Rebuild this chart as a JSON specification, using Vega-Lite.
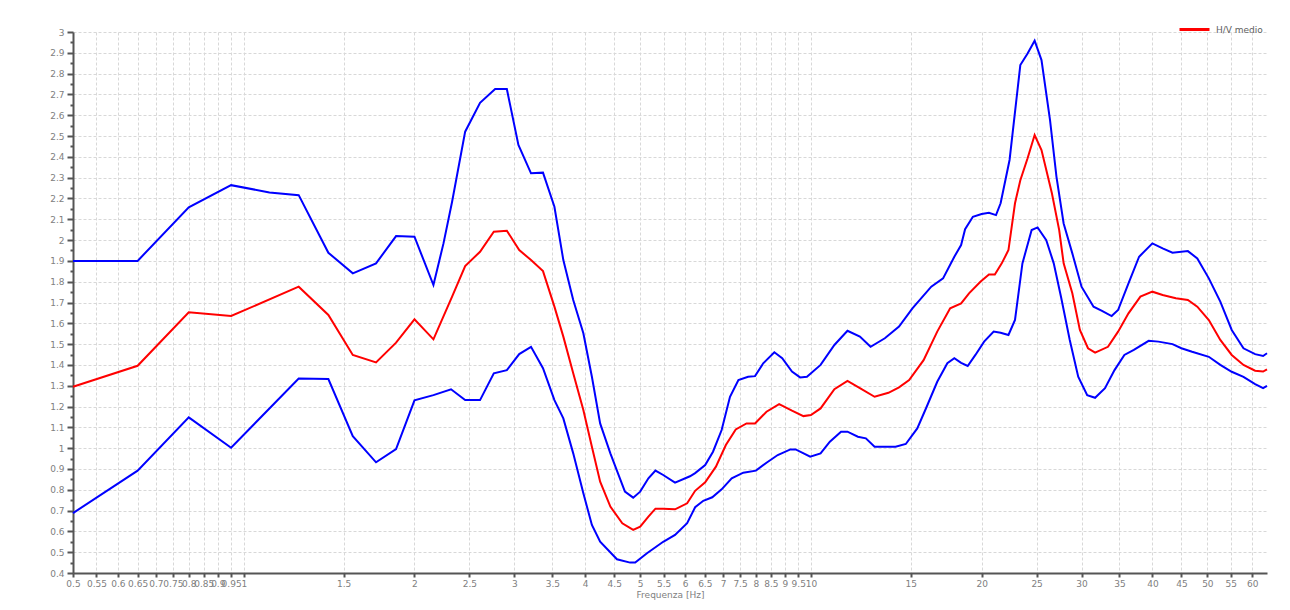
{
  "$schema": "https://vega.github.io/schema/vega-lite/v6.json",
  "autosize": "none",
  "padding": {"left": 73, "top": 32, "right": 23, "bottom": 37},
  "width": 1194,
  "height": 541,
  "background": "white",
  "config": {
    "view": {"stroke": null},
    "font": "DejaVu Sans"
  },
  "data": {
    "values": [
      {"f":0.5,"v":1.90,"s":"max"},{"f":0.65,"v":1.90,"s":"max"},{"f":0.8,"v":2.157,"s":"max"},{"f":0.95,"v":2.264,"s":"max"},{"f":1.11,"v":2.229,"s":"max"},{"f":1.25,"v":2.216,"s":"max"},{"f":1.41,"v":1.939,"s":"max"},{"f":1.557,"v":1.84,"s":"max"},{"f":1.711,"v":1.888,"s":"max"},{"f":1.856,"v":2.019,"s":"max"},{"f":2.0,"v":2.016,"s":"max"},{"f":2.16,"v":1.784,"s":"max"},{"f":2.25,"v":1.984,"s":"max"},{"f":2.33,"v":2.184,"s":"max"},{"f":2.457,"v":2.521,"s":"max"},{"f":2.61,"v":2.66,"s":"max"},{"f":2.775,"v":2.726,"s":"max"},{"f":2.91,"v":2.726,"s":"max"},{"f":3.05,"v":2.457,"s":"max"},{"f":3.21,"v":2.321,"s":"max"},{"f":3.37,"v":2.324,"s":"max"},{"f":3.53,"v":2.16,"s":"max"},{"f":3.66,"v":1.904,"s":"max"},{"f":3.81,"v":1.712,"s":"max"},{"f":3.97,"v":1.552,"s":"max"},{"f":4.11,"v":1.343,"s":"max"},{"f":4.25,"v":1.119,"s":"max"},{"f":4.43,"v":0.975,"s":"max"},{"f":4.7,"v":0.791,"s":"max"},{"f":4.86,"v":0.762,"s":"max"},{"f":5.0,"v":0.791,"s":"max"},{"f":5.17,"v":0.855,"s":"max"},{"f":5.32,"v":0.892,"s":"max"},{"f":5.49,"v":0.871,"s":"max"},{"f":5.76,"v":0.834,"s":"max"},{"f":6.12,"v":0.865,"s":"max"},{"f":6.25,"v":0.88,"s":"max"},{"f":6.51,"v":0.919,"s":"max"},{"f":6.72,"v":0.983,"s":"max"},{"f":6.96,"v":1.087,"s":"max"},{"f":7.2,"v":1.247,"s":"max"},{"f":7.45,"v":1.327,"s":"max"},{"f":7.75,"v":1.343,"s":"max"},{"f":7.97,"v":1.346,"s":"max"},{"f":8.24,"v":1.408,"s":"max"},{"f":8.62,"v":1.461,"s":"max"},{"f":8.9,"v":1.432,"s":"max"},{"f":9.26,"v":1.368,"s":"max"},{"f":9.57,"v":1.34,"s":"max"},{"f":9.84,"v":1.343,"s":"max"},{"f":10.4,"v":1.4,"s":"max"},{"f":11.0,"v":1.496,"s":"max"},{"f":11.6,"v":1.564,"s":"max"},{"f":12.2,"v":1.536,"s":"max"},{"f":12.74,"v":1.487,"s":"max"},{"f":13.5,"v":1.528,"s":"max"},{"f":14.3,"v":1.584,"s":"max"},{"f":15.1,"v":1.672,"s":"max"},{"f":16.3,"v":1.776,"s":"max"},{"f":17.1,"v":1.816,"s":"max"},{"f":17.9,"v":1.92,"s":"max"},{"f":18.4,"v":1.976,"s":"max"},{"f":18.7,"v":2.052,"s":"max"},{"f":19.3,"v":2.112,"s":"max"},{"f":20.0,"v":2.125,"s":"max"},{"f":20.6,"v":2.131,"s":"max"},{"f":21.2,"v":2.12,"s":"max"},{"f":21.6,"v":2.177,"s":"max"},{"f":22.4,"v":2.385,"s":"max"},{"f":23.4,"v":2.841,"s":"max"},{"f":24.1,"v":2.897,"s":"max"},{"f":24.8,"v":2.958,"s":"max"},{"f":25.5,"v":2.865,"s":"max"},{"f":26.4,"v":2.577,"s":"max"},{"f":27.1,"v":2.304,"s":"max"},{"f":27.9,"v":2.08,"s":"max"},{"f":28.9,"v":1.936,"s":"max"},{"f":30.0,"v":1.776,"s":"max"},{"f":31.5,"v":1.68,"s":"max"},{"f":32.6,"v":1.66,"s":"max"},{"f":33.9,"v":1.635,"s":"max"},{"f":34.8,"v":1.664,"s":"max"},{"f":36.3,"v":1.792,"s":"max"},{"f":37.9,"v":1.92,"s":"max"},{"f":40.0,"v":1.984,"s":"max"},{"f":41.7,"v":1.96,"s":"max"},{"f":43.4,"v":1.939,"s":"max"},{"f":46.2,"v":1.947,"s":"max"},{"f":48.0,"v":1.912,"s":"max"},{"f":50.3,"v":1.816,"s":"max"},{"f":52.7,"v":1.704,"s":"max"},{"f":55.2,"v":1.568,"s":"max"},{"f":57.9,"v":1.48,"s":"max"},{"f":60.7,"v":1.452,"s":"max"},{"f":62.7,"v":1.443,"s":"max"},{"f":63.7,"v":1.456,"s":"max"},

      {"f":0.5,"v":1.295,"s":"H/V medio"},{"f":0.65,"v":1.396,"s":"H/V medio"},{"f":0.8,"v":1.653,"s":"H/V medio"},{"f":0.95,"v":1.635,"s":"H/V medio"},{"f":1.25,"v":1.776,"s":"H/V medio"},{"f":1.41,"v":1.64,"s":"H/V medio"},{"f":1.557,"v":1.448,"s":"H/V medio"},{"f":1.711,"v":1.412,"s":"H/V medio"},{"f":1.856,"v":1.507,"s":"H/V medio"},{"f":2.0,"v":1.619,"s":"H/V medio"},{"f":2.16,"v":1.523,"s":"H/V medio"},{"f":2.33,"v":1.728,"s":"H/V medio"},{"f":2.457,"v":1.875,"s":"H/V medio"},{"f":2.61,"v":1.944,"s":"H/V medio"},{"f":2.76,"v":2.04,"s":"H/V medio"},{"f":2.91,"v":2.045,"s":"H/V medio"},{"f":3.06,"v":1.952,"s":"H/V medio"},{"f":3.21,"v":1.904,"s":"H/V medio"},{"f":3.37,"v":1.851,"s":"H/V medio"},{"f":3.53,"v":1.68,"s":"H/V medio"},{"f":3.66,"v":1.536,"s":"H/V medio"},{"f":3.81,"v":1.36,"s":"H/V medio"},{"f":3.97,"v":1.183,"s":"H/V medio"},{"f":4.11,"v":1.007,"s":"H/V medio"},{"f":4.25,"v":0.839,"s":"H/V medio"},{"f":4.43,"v":0.719,"s":"H/V medio"},{"f":4.65,"v":0.639,"s":"H/V medio"},{"f":4.86,"v":0.607,"s":"H/V medio"},{"f":5.0,"v":0.623,"s":"H/V medio"},{"f":5.17,"v":0.671,"s":"H/V medio"},{"f":5.32,"v":0.709,"s":"H/V medio"},{"f":5.49,"v":0.709,"s":"H/V medio"},{"f":5.76,"v":0.706,"s":"H/V medio"},{"f":6.05,"v":0.735,"s":"H/V medio"},{"f":6.25,"v":0.795,"s":"H/V medio"},{"f":6.51,"v":0.836,"s":"H/V medio"},{"f":6.8,"v":0.911,"s":"H/V medio"},{"f":7.08,"v":1.015,"s":"H/V medio"},{"f":7.37,"v":1.09,"s":"H/V medio"},{"f":7.7,"v":1.119,"s":"H/V medio"},{"f":7.97,"v":1.119,"s":"H/V medio"},{"f":8.35,"v":1.175,"s":"H/V medio"},{"f":8.79,"v":1.212,"s":"H/V medio"},{"f":9.26,"v":1.18,"s":"H/V medio"},{"f":9.7,"v":1.154,"s":"H/V medio"},{"f":10.0,"v":1.159,"s":"H/V medio"},{"f":10.4,"v":1.191,"s":"H/V medio"},{"f":11.0,"v":1.283,"s":"H/V medio"},{"f":11.6,"v":1.323,"s":"H/V medio"},{"f":12.2,"v":1.288,"s":"H/V medio"},{"f":12.95,"v":1.247,"s":"H/V medio"},{"f":13.7,"v":1.266,"s":"H/V medio"},{"f":14.3,"v":1.292,"s":"H/V medio"},{"f":14.9,"v":1.327,"s":"H/V medio"},{"f":15.8,"v":1.423,"s":"H/V medio"},{"f":16.7,"v":1.56,"s":"H/V medio"},{"f":17.6,"v":1.672,"s":"H/V medio"},{"f":18.4,"v":1.696,"s":"H/V medio"},{"f":18.7,"v":1.72,"s":"H/V medio"},{"f":19.0,"v":1.744,"s":"H/V medio"},{"f":19.9,"v":1.8,"s":"H/V medio"},{"f":20.6,"v":1.835,"s":"H/V medio"},{"f":21.1,"v":1.835,"s":"H/V medio"},{"f":21.7,"v":1.888,"s":"H/V medio"},{"f":22.3,"v":1.952,"s":"H/V medio"},{"f":22.9,"v":2.177,"s":"H/V medio"},{"f":23.4,"v":2.288,"s":"H/V medio"},{"f":24.1,"v":2.393,"s":"H/V medio"},{"f":24.8,"v":2.505,"s":"H/V medio"},{"f":25.5,"v":2.433,"s":"H/V medio"},{"f":26.6,"v":2.225,"s":"H/V medio"},{"f":27.4,"v":2.048,"s":"H/V medio"},{"f":27.9,"v":1.888,"s":"H/V medio"},{"f":28.9,"v":1.744,"s":"H/V medio"},{"f":29.8,"v":1.568,"s":"H/V medio"},{"f":30.8,"v":1.48,"s":"H/V medio"},{"f":31.7,"v":1.459,"s":"H/V medio"},{"f":33.4,"v":1.487,"s":"H/V medio"},{"f":34.8,"v":1.56,"s":"H/V medio"},{"f":36.3,"v":1.648,"s":"H/V medio"},{"f":38.1,"v":1.728,"s":"H/V medio"},{"f":40.0,"v":1.752,"s":"H/V medio"},{"f":41.7,"v":1.736,"s":"H/V medio"},{"f":44.0,"v":1.72,"s":"H/V medio"},{"f":46.2,"v":1.712,"s":"H/V medio"},{"f":48.0,"v":1.68,"s":"H/V medio"},{"f":50.3,"v":1.616,"s":"H/V medio"},{"f":52.7,"v":1.52,"s":"H/V medio"},{"f":55.2,"v":1.448,"s":"H/V medio"},{"f":57.9,"v":1.4,"s":"H/V medio"},{"f":60.7,"v":1.372,"s":"H/V medio"},{"f":62.7,"v":1.368,"s":"H/V medio"},{"f":63.7,"v":1.379,"s":"H/V medio"},

      {"f":0.5,"v":0.688,"s":"min"},{"f":0.65,"v":0.892,"s":"min"},{"f":0.8,"v":1.148,"s":"min"},{"f":0.95,"v":1.002,"s":"min"},{"f":1.25,"v":1.335,"s":"min"},{"f":1.41,"v":1.332,"s":"min"},{"f":1.557,"v":1.058,"s":"min"},{"f":1.711,"v":0.932,"s":"min"},{"f":1.856,"v":0.996,"s":"min"},{"f":2.0,"v":1.23,"s":"min"},{"f":2.16,"v":1.255,"s":"min"},{"f":2.32,"v":1.283,"s":"min"},{"f":2.457,"v":1.231,"s":"min"},{"f":2.61,"v":1.231,"s":"min"},{"f":2.76,"v":1.36,"s":"min"},{"f":2.91,"v":1.375,"s":"min"},{"f":3.06,"v":1.452,"s":"min"},{"f":3.21,"v":1.487,"s":"min"},{"f":3.37,"v":1.384,"s":"min"},{"f":3.53,"v":1.231,"s":"min"},{"f":3.66,"v":1.143,"s":"min"},{"f":3.81,"v":0.975,"s":"min"},{"f":3.97,"v":0.783,"s":"min"},{"f":4.11,"v":0.631,"s":"min"},{"f":4.25,"v":0.55,"s":"min"},{"f":4.55,"v":0.466,"s":"min"},{"f":4.8,"v":0.45,"s":"min"},{"f":4.9,"v":0.45,"s":"min"},{"f":5.14,"v":0.495,"s":"min"},{"f":5.49,"v":0.55,"s":"min"},{"f":5.76,"v":0.583,"s":"min"},{"f":6.05,"v":0.639,"s":"min"},{"f":6.25,"v":0.716,"s":"min"},{"f":6.46,"v":0.747,"s":"min"},{"f":6.7,"v":0.764,"s":"min"},{"f":6.96,"v":0.802,"s":"min"},{"f":7.25,"v":0.855,"s":"min"},{"f":7.6,"v":0.882,"s":"min"},{"f":8.0,"v":0.892,"s":"min"},{"f":8.35,"v":0.93,"s":"min"},{"f":8.74,"v":0.967,"s":"min"},{"f":9.2,"v":0.994,"s":"min"},{"f":9.4,"v":0.994,"s":"min"},{"f":9.97,"v":0.959,"s":"min"},{"f":10.4,"v":0.975,"s":"min"},{"f":10.8,"v":1.031,"s":"min"},{"f":11.3,"v":1.079,"s":"min"},{"f":11.6,"v":1.079,"s":"min"},{"f":12.1,"v":1.055,"s":"min"},{"f":12.5,"v":1.047,"s":"min"},{"f":12.95,"v":1.007,"s":"min"},{"f":14.1,"v":1.007,"s":"min"},{"f":14.7,"v":1.02,"s":"min"},{"f":15.4,"v":1.095,"s":"min"},{"f":16.0,"v":1.199,"s":"min"},{"f":16.7,"v":1.319,"s":"min"},{"f":17.4,"v":1.408,"s":"min"},{"f":17.9,"v":1.432,"s":"min"},{"f":18.4,"v":1.41,"s":"min"},{"f":18.9,"v":1.395,"s":"min"},{"f":19.5,"v":1.448,"s":"min"},{"f":20.2,"v":1.512,"s":"min"},{"f":21.0,"v":1.56,"s":"min"},{"f":21.6,"v":1.555,"s":"min"},{"f":22.3,"v":1.544,"s":"min"},{"f":22.9,"v":1.616,"s":"min"},{"f":23.6,"v":1.888,"s":"min"},{"f":24.5,"v":2.048,"s":"min"},{"f":25.1,"v":2.061,"s":"min"},{"f":26.0,"v":2.0,"s":"min"},{"f":26.8,"v":1.888,"s":"min"},{"f":27.6,"v":1.728,"s":"min"},{"f":28.6,"v":1.52,"s":"min"},{"f":29.6,"v":1.343,"s":"min"},{"f":30.7,"v":1.255,"s":"min"},{"f":31.7,"v":1.242,"s":"min"},{"f":33.0,"v":1.288,"s":"min"},{"f":34.3,"v":1.375,"s":"min"},{"f":35.7,"v":1.448,"s":"min"},{"f":37.1,"v":1.472,"s":"min"},{"f":39.4,"v":1.516,"s":"min"},{"f":41.0,"v":1.512,"s":"min"},{"f":43.4,"v":1.5,"s":"min"},{"f":45.0,"v":1.48,"s":"min"},{"f":47.0,"v":1.463,"s":"min"},{"f":50.3,"v":1.439,"s":"min"},{"f":52.7,"v":1.4,"s":"min"},{"f":55.2,"v":1.367,"s":"min"},{"f":57.9,"v":1.343,"s":"min"},{"f":60.7,"v":1.308,"s":"min"},{"f":62.7,"v":1.288,"s":"min"},{"f":63.7,"v":1.299,"s":"min"}
    ]
  },
  "mark": {"type": "line", "strokeWidth": 2, "interpolate": "linear"},
  "encoding": {
    "x": {
      "field": "f",
      "type": "quantitative",
      "scale": {"type": "log", "domain": [0.5, 63.7], "nice": false},
      "axis": {
        "title": "Frequenza [Hz]",
        "titleFont": "DejaVu Sans",
        "titleFontSize": 9,
        "titleFontWeight": "normal",
        "titleColor": "#808080",
        "titlePadding": 2,
        "values": [0.5,0.55,0.6,0.65,0.7,0.75,0.8,0.85,0.9,0.95,1,1.5,2,2.5,3,3.5,4,4.5,5,5.5,6,6.5,7,7.5,8,8.5,9,9.5,10,15,20,25,30,35,40,45,50,55,60],
        "format": "~g",
        "labelOverlap": false,
        "labelBound": false,
        "labelFlush": false,
        "labelFont": "DejaVu Sans",
        "labelFontSize": 9,
        "labelColor": "#808080",
        "labelPadding": 2,
        "tickSize": 4,
        "tickWidth": 2,
        "tickColor": "#555555",
        "domainColor": "#555555",
        "domainWidth": 2,
        "grid": true,
        "gridColor": "#d8d8d8",
        "gridDash": [3, 2],
        "gridWidth": 1
      }
    },
    "y": {
      "field": "v",
      "type": "quantitative",
      "scale": {"domain": [0.4, 3], "nice": false, "zero": false},
      "axis": {
        "title": null,
        "values": [0.4,0.45,0.5,0.55,0.6,0.65,0.7,0.75,0.8,0.85,0.9,0.95,1,1.05,1.1,1.15,1.2,1.25,1.3,1.35,1.4,1.45,1.5,1.55,1.6,1.65,1.7,1.75,1.8,1.85,1.9,1.95,2,2.05,2.1,2.15,2.2,2.25,2.3,2.35,2.4,2.45,2.5,2.55,2.6,2.65,2.7,2.75,2.8,2.85,2.9,2.95,3],
        "labelExpr": "abs(round(datum.value*10) - datum.value*10) > 0.01 ? '' : format(datum.value, '.2~f')",
        "labelFont": "DejaVu Sans",
        "labelFontSize": 9,
        "labelColor": "#808080",
        "labelPadding": 3,
        "labelOverlap": false,
        "labelBound": false,
        "labelFlush": false,
        "tickSize": {"condition": {"test": "abs(round(datum.value*10) - datum.value*10) > 0.01", "value": 3}, "value": 6},
        "tickWidth": 2,
        "tickColor": "#555555",
        "domainColor": "#555555",
        "domainWidth": 2,
        "grid": true,
        "gridColor": "#d8d8d8",
        "gridDash": [3, 2],
        "gridWidth": 1,
        "gridOpacity": {"condition": {"test": "abs(round(datum.value*10) - datum.value*10) > 0.01", "value": 0}, "value": 1}
      }
    },
    "color": {
      "field": "s",
      "type": "nominal",
      "scale": {"domain": ["H/V medio", "max", "min"], "range": ["#ff0000", "#0000ff", "#0000ff"]},
      "legend": {
        "values": ["H/V medio"],
        "title": null,
        "orient": "none",
        "legendX": 1105,
        "legendY": -19,
        "symbolType": "stroke",
        "symbolSize": 900,
        "symbolStrokeWidth": 3,
        "labelFont": "DejaVu Sans",
        "labelFontSize": 9,
        "labelColor": "#606060",
        "labelOffset": 5,
        "padding": 0
      }
    },
    "detail": {"field": "s"}
  }
}
